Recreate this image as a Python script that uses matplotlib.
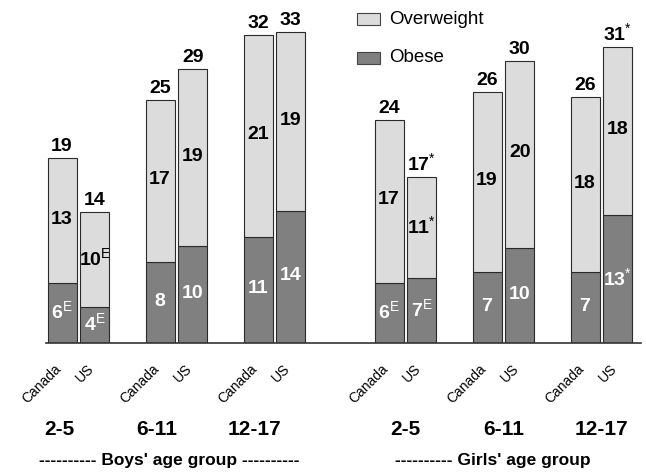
import matplotlib
matplotlib.use("Agg")
import matplotlib.pyplot as plt
from matplotlib.patches import Rectangle

FONT = ['Liberation Sans', 'DejaVu Sans']
plt.rcParams['font.family'] = FONT
plt.rcParams['mathtext.fontset'] = 'custom'
plt.rcParams['mathtext.rm'] = 'Liberation Sans'
plt.rcParams['mathtext.bf'] = 'Liberation Sans:bold'
plt.rcParams['mathtext.it'] = 'Liberation Sans:italic'

# ---- data ----
countries = ['Canada', 'US']
age_groups = ['2-5', '6-11', '12-17', '2-5', '6-11', '12-17']
sexes = ["---------- Boys' age group ----------", "---------- Girls' age group"]

# bar heights (percent), order: boys 2-5 Canada, US, 6-11 Canada, US, ... girls ...
obese = [6.25, 3.8, 8.4, 10.1, 11.0, 13.7, 6.3, 6.8, 7.4, 9.9, 7.4, 13.3]
overweight = [13.0, 9.8, 16.9, 18.4, 21.1, 18.7, 16.9, 10.5, 18.7, 19.5, 18.2, 17.5]

obese_labels = ['6', '4', '8', '10', '11', '14', '6', '7', '7', '10', '7', '13']
obese_sup = ['E', 'E', '', '', '', '', 'E', 'E', '', '', '', '*']
over_labels = ['13', '10', '17', '19', '21', '19', '17', '11', '19', '20', '18', '18']
over_sup = ['', 'E', '', '', '', '', '', '*', '', '', '', '']
total_labels = ['19', '14', '25', '29', '32', '33', '24', '17', '26', '30', '26', '31']
total_sup = ['', '', '', '', '', '', '', '*', '', '', '', '*']

LIGHT = '#dcdcdc'
DARK = '#808080'
EDGE = '#2a2a2a'

W, H = 646, 474
fig = plt.figure(figsize=(W / 100, H / 100), dpi=100)
base_px = 343
ax = fig.add_axes([46 / W, (H - base_px) / H, (641 - 46) / W, base_px / H])
ax.set_xlim(46, 641)
ax.set_ylim(0, base_px / 9.6)

# positions (pixel-like units)
xs = []
for i in range(len(obese)):
    g = i // 2
    sex = g // 3
    gi = g % 3
    c = i % 2
    xs.append(62 + 98 * gi + 327 * sex + 32.7 * c)

bw = 29
ax.bar(xs, obese, width=bw, color=DARK, edgecolor=EDGE, linewidth=0.8, zorder=2)
ax.bar(xs, overweight, width=bw, bottom=obese, color=LIGHT, edgecolor=EDGE,
       linewidth=0.8, zorder=2)


def lab(num, sup):
    if not sup:
        return num
    return r"$\mathbf{%s}^{\mathrm{%s}}$" % (num, sup)


FS = 14
for i, x in enumerate(xs):
    ob = obese[i]
    ov = overweight[i]
    ax.text(x, ob / 2 + 0.15, lab(obese_labels[i], obese_sup[i]), ha='center',
            va='center', color='white', fontsize=FS, fontweight='bold', zorder=3)
    ax.text(x, ob + ov / 2 + 0.15, lab(over_labels[i], over_sup[i]), ha='center',
            va='center', color='black', fontsize=FS, fontweight='bold', zorder=3)
    ax.annotate(lab(total_labels[i], total_sup[i]), xy=(x, ob + ov),
                xytext=(0, 5), textcoords='offset points', ha='center',
                va='baseline', color='black', fontsize=FS, fontweight='bold',
                annotation_clip=False)
    # rotated country tick labels
    ax.annotate(countries[i % 2], xy=(x, 0), xytext=(-6, -13.5),
                textcoords='offset points', ha='right', va='top', rotation=45,
                rotation_mode='anchor', fontsize=10, color='black',
                annotation_clip=False)

# age group labels
for g in range(6):
    xc = (xs[2 * g] + xs[2 * g + 1]) / 2
    shift = -14 if g < 3 else 0
    ax.annotate(age_groups[g], xy=(xc, 0), xytext=(shift, -62),
                textcoords='offset points', ha='center', va='center',
                fontsize=15, fontweight='bold', annotation_clip=False)

# sex labels
fig.text(169 / W, 1 - 460 / H, sexes[0], ha='center', va='center',
         fontsize=12.5, fontweight='bold')
fig.text(493 / W, 1 - 460 / H, sexes[1], ha='center', va='center',
         fontsize=12.5, fontweight='bold')

# axes styling
for s in ['top', 'right', 'left']:
    ax.spines[s].set_visible(False)
ax.spines['bottom'].set_color('#333333')
ax.spines['bottom'].set_linewidth(1.2)
ax.spines['bottom'].set_zorder(4)
ax.set_xticks([])
ax.set_yticks([])
ax.patch.set_alpha(0)

# legend (manual)
leg_items = [('Overweight', LIGHT, 19), ('Obese', DARK, 58)]
for name, col, yc in leg_items:
    fig.patches.append(Rectangle((357 / W, 1 - (yc + 6) / H), 23 / W, 12 / H,
                                 transform=fig.transFigure, facecolor=col,
                                 edgecolor='#444444', linewidth=0.8))
    fig.text(389 / W, 1 - yc / H, name, ha='left', va='center', fontsize=13.5)

fig.savefig('out.png', dpi=100)
